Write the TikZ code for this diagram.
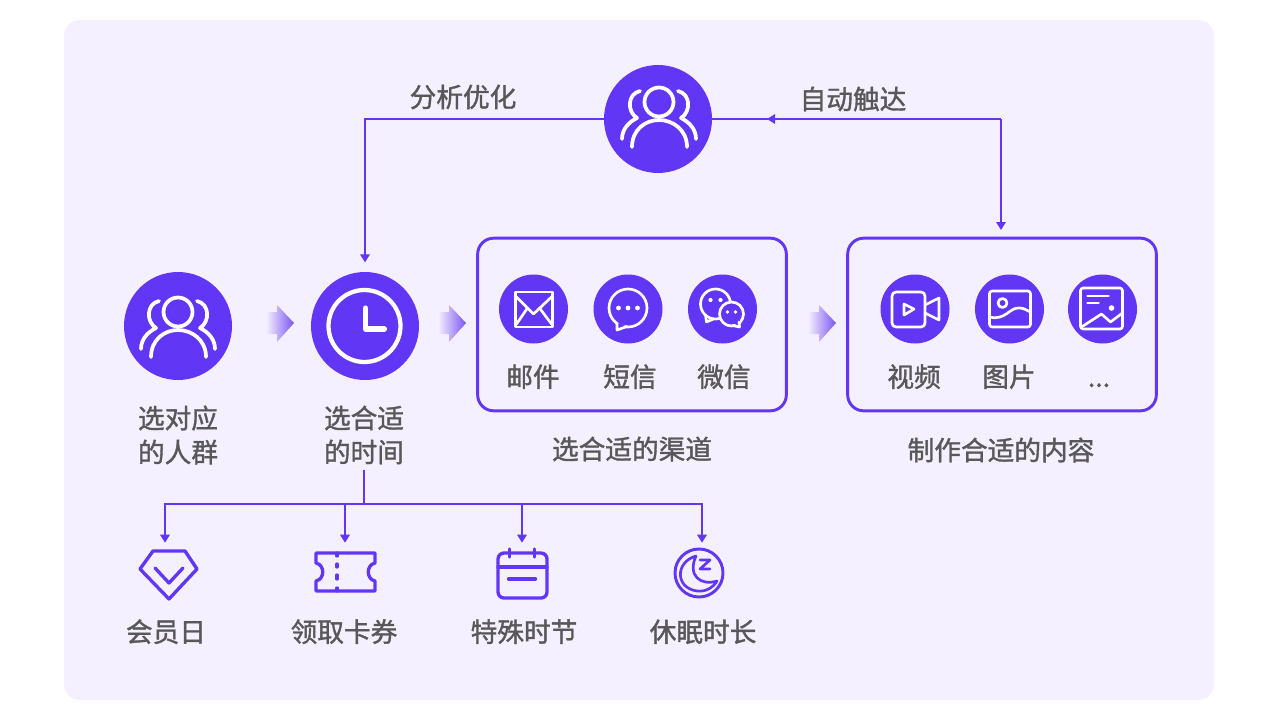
\documentclass[tikz,border=0pt]{standalone}
\usepackage{fontspec}
\setmainfont[FakeBold=1.3]{Noto Sans CJK SC}
\usetikzlibrary{arrows.meta}
\definecolor{panelbg}{HTML}{F4F0FF}
\definecolor{brand}{HTML}{6236F5}
\definecolor{labelgray}{HTML}{585858}
\definecolor{chevronend}{HTML}{7A55F2}
\tikzset{
  x=0.75pt,y=-0.75pt,
  disc/.style={circle,fill=brand,draw=none,inner sep=0pt,minimum size=#1},
  disc/.default=51.75pt,
  groupbox/.style={draw=brand,line width=2.2pt,rounded corners=12pt,inner sep=0pt,minimum width=231.5pt,minimum height=129.5pt},
  lbl/.style={font=\fontsize{20}{25.5}\selectfont,text=labelgray,align=center,inner sep=0pt},
  slbl/.style={lbl,text height=0.86em,text depth=0.14em},
  conn/.style={draw=brand,line width=1.5pt},
  tip/.style={-{Triangle[length=6pt,width=7pt]}},
  iconbox/.style={inner sep=0pt,minimum width=45pt,minimum height=43.5pt},
  ws/.style={draw=white,line width=#1,line cap=round,line join=round},
  ws/.default=2pt,
  ps/.style={draw=brand,line width=#1,line cap=round,line join=round},
  ps/.default=2.5pt,
  pics/people/.style={code={
    \draw[ws=2.8pt] (0,0) circle (14.5);
    \draw[ws=2.8pt] (-27,45) .. controls (-27,28) and (-14,18) .. (0,18) .. controls (14,18) and (28,28) .. (28,45);
    \draw[ws=2.8pt] (-37,37) .. controls (-37,27) and (-30,20) .. (-22,16) .. controls (-32,10) and (-32,-8) .. (-19,-11);
    \draw[ws=2.8pt] (37,37) .. controls (37,27) and (30,20) .. (22,16) .. controls (32,10) and (32,-8) .. (19,-11);
  }},
  pics/clockface/.style={code={
    \draw[ws=3.2pt] (0,0) circle (36);
    \draw[ws=3.8pt] (1,-18) -- (1,3) -- (20,3);
  }},
  pics/mail/.style={code={
    \draw[ws] (-18,-17) rectangle (19,18);
    \draw[ws] (-18,-13) -- (0,5) -- (19,-13);
    \draw[ws] (-17,15) -- (-6,-1);
    \draw[ws] (18,15) -- (6,-1);
  }},
  pics/chat/.style={code={
    \draw[ws] (0,0) circle (19);
    \fill[brand] (-11,14) -- (-11,20) -- (-1,19) -- cycle;
    \draw[ws] (-11,15) -- (-11,22) -- (-1,18.5);
    \fill[white] (-9.5,0) circle (2.4) (0,0) circle (2.4) (9.5,0) circle (2.4);
  }},
  pics/wechat/.style={code={
    \draw[ws] (-7,-5) circle (15);
    \draw[ws] (-17,6) -- (-16,13) -- (-9,10);
    \fill[brand] (9,5) circle (12);
    \draw[ws] (9,5) circle (12);
    \fill[brand] (11,14) -- (17,18) -- (17,11) -- cycle;
    \draw[ws] (10,16.5) -- (17,18) -- (16.5,13);
    \fill[white] (-12,-9) circle (2.1) (-2,-9) circle (2.1) (5,3) circle (1.8) (13,3) circle (1.8);
  }},
  pics/video/.style={code={
    \draw[ws,rounded corners=3pt] (-23,-17) rectangle (10,18);
    \draw[ws] (10,-4) -- (24,-11) -- (24,11) -- (10,4);
    \draw[ws] (-11,-5) -- (-1,0) -- (-11,6) -- cycle;
  }},
  pics/photo/.style={code={
    \draw[ws,rounded corners=2pt] (-20,-18) rectangle (21,18);
    \draw[ws] (-7,-6) circle (4.5);
    \draw[ws] (-20,8) .. controls (-4,12) and (0,-2) .. (10,-1) .. controls (15,-1) and (18,2) .. (21,3);
  }},
  pics/poster/.style={code={
    \draw[ws,rounded corners=2pt] (-22,-21) rectangle (20,20);
    \draw[ws] (-15,-13) -- (6,-13);
    \draw[ws] (-15,-6) -- (-4,-6);
    \fill[white] (9,-1) circle (2.8);
    \draw[ws] (-21,18) -- (-1,5) -- (8,13) -- (20,4);
  }},
  pics/chevron/.style={code={
    \shade[left color=panelbg,right color=chevronend]
      (0,-11) -- (11,-11) -- (11,-18) -- (28,0) -- (11,19) -- (11,11) -- (0,11) -- cycle;
  }},
  pics/gem/.style={code={
    \draw[ps] (-13,-21) -- (19,-21) -- (31,-3) -- (3,27) -- (-26,-3) -- cycle;
    \draw[ps] (-11,-4) -- (3,11) -- (17,-4);
  }},
  pics/ticket/.style={code={
    \draw[ps] (-29,-19) -- (30,-19) -- (30,-9) .. controls (21,-7) and (21,7) .. (30,9) -- (30,19) -- (-29,19) -- (-29,9) .. controls (-20,7) and (-20,-7) .. (-29,-9) -- cycle;
    \draw[ps] (-8,-19) -- (-8,-16) (-8,-8) -- (-8,-5) (-8,3) -- (-8,7) (-8,16) -- (-8,19);
  }},
  pics/calendar/.style={code={
    \draw[ps,rounded corners=4.5pt] (-24.5,-20) rectangle (24.5,25);
    \draw[ps] (-24.5,-6) -- (24.5,-6);
    \draw[ps] (-13,-24) -- (-13,-16) (12,-24) -- (12,-16);
    \draw[ps] (-14,6) -- (13,6);
  }},
  pics/sleep/.style={code={
    \draw[ps=2.2pt] (0,0) circle (24);
    \draw[ps=2pt] (-3,-17) .. controls (-24,-11) and (-24,15) .. (-2,18) .. controls (6,19) and (14,15) .. (18,8) .. controls (2,13) and (-12,3) .. (-3,-17);
    \draw[ps=2pt] (1,-13) -- (11,-13) -- (1,-4) -- (11,-4);
  }},
}
\begin{document}
\begin{tikzpicture}
\useasboundingbox (0,0) rectangle (1280,720);
\fill[white] (0,0) rectangle (1280,720);
\fill[panelbg,rounded corners=12pt] (64,20) rectangle (1214,700);

% main discs
\node[disc=81pt] (top) at (658,119) {};
\node[disc=81pt] (crowd) at (178,326) {};
\node[disc=81pt] (clock) at (365,326) {};
\pic at (659,102) {people};
\pic at (178,312) {people};
\pic at (364.5,326) {clockface};

% grouped boxes
\node[groupbox] (channels) at (632,324.5) {};
\node[groupbox] (content) at (1002,324.5) {};

% connectors
\coordinate (corner) at (1001,119);
\coordinate (midtip) at (767,119);
\draw[conn] (top.east) -- (corner);
\draw[conn,tip] (corner) -- (midtip);
\draw[conn,tip,shorten >=5pt] (corner) -- (corner |- content.north);
\draw[conn,tip,shorten >=7pt] (top.west) -| (clock.north);

% chevrons
\pic at (266,323) {chevron};
\pic at (438,323) {chevron};
\pic at (808,323) {chevron};

% channel icons
\node[disc] (mailc) at (533.5,309) {};
\node[disc] (chatc) at (628,309) {};
\node[disc] (wxc) at (722.5,309) {};
\pic at (533.5,309) {mail};
\pic at (628,308) {chat};
\pic at (722.5,309) {wechat};
\node[disc] (videoc) at (915,309) {};
\node[disc] (photoc) at (1009.5,309) {};
\node[disc] (posterc) at (1102.5,309) {};
\pic at (915,309) {video};
\pic at (1009.5,309) {photo};
\pic at (1102.5,309) {poster};

% labels
\node[lbl] at (463,97) {分析优化};
\node[lbl] at (853,99) {自动触达};
\node[lbl,minimum height=52.5pt] (t1) at (178,435) {选对应\\的人群};
\node[lbl,minimum height=52.5pt] (t2) at (364,435) {选合适\\的时间};
\node[lbl] at (632,449) {选合适的渠道};
\node[lbl] at (1001,450) {制作合适的内容};
\node[slbl] at (533,382) {邮件};
\node[slbl] at (630,382) {短信};
\node[slbl] at (724,382) {微信};
\node[slbl] at (914,382) {视频};
\node[slbl] at (1009,382) {图片};
\node[slbl] at (1099,382) {...};

% bottom tree
\node[iconbox] (gemn) at (165,572) {};
\node[iconbox] (ticketn) at (345,572) {};
\node[iconbox] (caln) at (522,572) {};
\node[iconbox] (sleepn) at (702,572) {};
\coordinate (hub) at (364,504);
\draw[conn] (t2.south) -- (hub);
\draw[conn,tip] (hub) -| (gemn.north);
\draw[conn,tip] (hub) -| (ticketn.north);
\draw[conn,tip] (hub) -| (caln.north);
\draw[conn,tip] (hub) -| (sleepn.north);
\pic at (166,572) {gem};
\pic at (345,572) {ticket};
\pic at (522.5,573) {calendar};
\pic at (699,573) {sleep};
\node[slbl] at (166,637) {会员日};
\node[slbl] at (344,637) {领取卡券};
\node[slbl] at (524,637) {特殊时节};
\node[slbl] at (703,637) {休眠时长};
\end{tikzpicture}
\end{document}
